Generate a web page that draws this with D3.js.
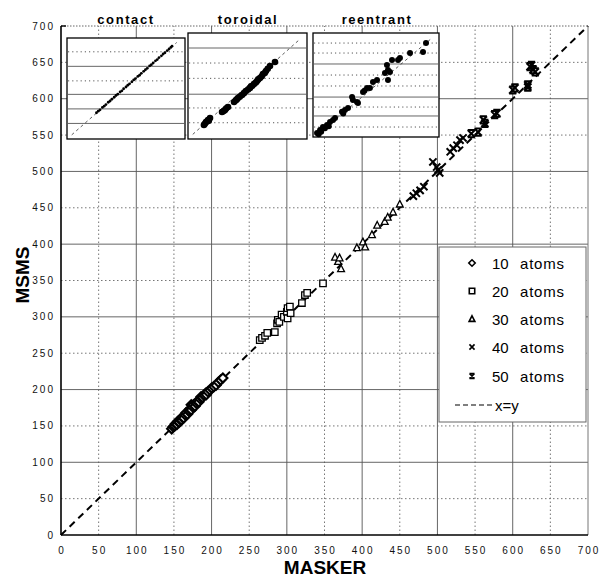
<!DOCTYPE html>
<html><head><meta charset="utf-8">
<script src="https://cdn.jsdelivr.net/npm/d3@7"></script>
<style>
html,body{margin:0;padding:0;background:#fff;}
svg{display:block;font-family:"Liberation Sans",Arial,sans-serif;}
</style></head>
<body>
<svg id="chart" width="600" height="578"></svg>
<script>
// ---------- DATA ----------
const xTicks = [0,50,100,150,200,250,300,350,400,450,500,550,600,650,700];
const yTicks = [0,50,100,150,200,250,300,350,400,450,500,550,600,650,700];
const seriesNames = ["10 atoms","20 atoms","30 atoms","40 atoms","50 atoms"];
const seriesShapes = ["diamond","square","triangle","x","star"];

const atoms10 = [[147,146],[149,149],[151,150],[152,153],[154,152],[155,156],[157,155],[158,159],[160,158],[161,162],[163,161],[165,165],[166,168],[168,166],[170,170],[171,173],[173,172],[173,179],[175,176],[176,179],[178,177],[180,181],[181,184],[183,183],[185,187],[186,190],[188,189],[190,192],[192,195],[193,193],[195,197],[198,199],[200,202],[203,204],[206,206],[209,210],[212,213],[215,216]];
const atoms20 = [[264,268],[267,271],[271,274],[274,278],[284,279],[287,291],[288,296],[290,293],[293,303],[296,300],[300,307],[301,312],[301,298],[304,314],[305,305],[320,319],[324,330],[327,333],[348,346]];
const atoms30 = [[364,382],[368,376],[370,381],[372,366],[393,395],[401,403],[404,396],[413,413],[420,426],[430,431],[434,437],[441,444],[450,455]];
const atoms40 = [[468,466],[472,470],[477,474],[482,479],[494,513],[499,506],[501,502],[503,498],[517,527],[521,532],[526,536],[530,543],[534,546]];
const atoms50 = [[545,552],[554,554],[561,571],[563,566],[576,578],[579,580],[600,612],[603,615],[620,616],[620,619],[623,644],[625,646],[627,640],[630,637]];
const allSeries = [atoms10, atoms20, atoms30, atoms40, atoms50];

const insetTitles = ["contact","toroidal","reentrant"];
const contactPts = [[25,25.3],[26.5,26.8],[28,28.1],[30,30.4],[31.5,31.6],[33,33.2],[35,35.4],[36.5,36.6],[38,38.3],[40,40.2],[41.5,41.9],[43,43.1],[45,45.3],[46.5,46.4],[48,48.4],[50,50.1],[51.5,51.8],[53,53.2],[55,55.1],[56.5,56.9],[58,58.2],[60,60.3],[61.5,61.4],[63,63.3],[65,65.2],[66.5,66.8],[68,68.1],[70,70.4],[71.5,71.6],[73,73.2],[75,75.3],[76.5,76.5],[78,78.4],[80,80.1],[81.5,81.9],[83,83.1],[85,85.2],[86.5,86.7],[88,88.2],[89,89.4]];
const toroidalPts = [[13.4,12.9],[14.2,14.1],[15.1,15.7],[16,16.2],[16.8,17.6],[17.5,17],[18.5,19.5],[28.6,25.2],[30,26],[31.1,27.1],[32,28.5],[33.6,29.9],[38.7,34.6],[40,36],[41,37],[42,38.4],[43.5,39.5],[45.4,41.2],[47,43],[48.7,45],[50.5,46.5],[52.1,47.9],[53,49.5],[54,50],[55.5,51.7],[57,53],[58,54.5],[59,56],[60.5,57.3],[62,59],[63,61.1],[64.5,62],[65.5,64],[67,66],[68.9,68.7],[73.1,72.5]];
const reentrantPts = [[3.2,5.1],[4.5,4],[5.6,7.9],[6.5,6.2],[7.9,10.7],[9.5,9.5],[11.1,12.6],[12.5,11.5],[13.5,15.4],[15.9,17.3],[17.5,19.2],[23,25],[24,23.5],[25.4,26.7],[27.8,28.6],[31,38.9],[31.7,36.1],[34.9,34.2],[35.7,33.3],[39.7,43.6],[41,45],[42.9,47.4],[45.2,47.4],[47.6,53.1],[50.8,54.9],[57.1,61.5],[59.5,64.4],[58.7,69.1],[61.1,62.5],[59.5,54.9],[62.7,73.8],[67.5,73.8],[69,75.7],[77,80.3],[87.3,81.3],[89.7,89.7]];
const contactGrid = [[15,"solid"],[29,"solid"],[43,"solid"],[56,"dot"],[70,"solid"],[84,"dot"]];
const toroidalGrid = [[15,"dot"],[29,"dot"],[42,"solid"],[57,"dot"],[71.5,"dot"],[85.7,"solid"]];
const reentrantGrid = [[10.7,"dot"],[21.1,"solid"],[29.5,"dot"],[38.9,"solid"],[49.3,"dot"],[59.6,"dot"],[70,"solid"],[80.3,"dot"],[89.7,"dot"]];

// ---------- DRAW ----------
const svg = d3.select("#chart");
const x = d3.scaleLinear().domain([0,700]).range([61,588]);
const y = d3.scaleLinear().domain([0,700]).range([535,26]);

function markerPath(shape, s){
  switch(shape){
    case "diamond": return `M0,${-s}L${s},0L0,${s}L${-s},0Z`;
    case "square": return `M${-s*0.85},${-s*0.85}H${s*0.85}V${s*0.85}H${-s*0.85}Z`;
    case "triangle": return `M0,${-s}L${s*0.9},${s*0.75}L${-s*0.9},${s*0.75}Z`;
    case "x": return `M${-s*0.8},${-s*0.8}L${s*0.8},${s*0.8}M${s*0.8},${-s*0.8}L${-s*0.8},${s*0.8}`;
    case "star": return `M${-s*0.8},${-s*0.8}L${s*0.8},${s*0.8}M${s*0.8},${-s*0.8}L${-s*0.8},${s*0.8}M${-s*0.8},${-s*0.8}H${s*0.8}M${-s*0.8},${s*0.8}H${s*0.8}`;
  }
}

// grid
const grid = svg.append("g");
xTicks.filter(v=>v>0 && v<700).forEach(v=>{
  const major = v%100===0;
  grid.append("line").attr("x1",x(v)).attr("x2",x(v)).attr("y1",y(0)).attr("y2",y(700))
    .attr("stroke", major?"#555":"#666").attr("stroke-width",0.9)
    .attr("stroke-dasharray", major?null:"1.5,2.5");
});
yTicks.filter(v=>v>0 && v<700).forEach(v=>{
  const major = v%100===0;
  grid.append("line").attr("x1",x(0)).attr("x2",x(700)).attr("y1",y(v)).attr("y2",y(v))
    .attr("stroke", major?"#555":"#666").attr("stroke-width",0.9)
    .attr("stroke-dasharray", major?null:"1.5,2.5");
});
grid.append("line").attr("x1",x(0)).attr("x2",x(700)).attr("y1",y(700)).attr("y2",y(700))
  .attr("stroke","#666").attr("stroke-dasharray","1.5,1.5");
grid.append("line").attr("x1",x(700)).attr("x2",x(700)).attr("y1",y(0)).attr("y2",y(700))
  .attr("stroke","#777");
// axes
svg.append("line").attr("x1",x(0)).attr("x2",x(0)).attr("y1",y(0)).attr("y2",y(700)).attr("stroke","#000").attr("stroke-width",1.6);
svg.append("line").attr("x1",x(0)).attr("x2",x(700)).attr("y1",y(0)).attr("y2",y(0)).attr("stroke","#000").attr("stroke-width",1.6);
svg.append("line").attr("x1",x(0)).attr("x2",x(0)+5).attr("y1",y(700)).attr("y2",y(700)).attr("stroke","#000").attr("stroke-width",1.4);

// tick labels
svg.append("g").selectAll("text").data(xTicks).join("text")
  .attr("x",d=>x(d)+1).attr("y",554).attr("text-anchor","middle")
  .attr("font-size",10).attr("letter-spacing",2).attr("fill","#111").text(d=>d);
svg.append("g").selectAll("text").data(yTicks).join("text")
  .attr("x",55).attr("y",d=>y(d)+3.5).attr("text-anchor","end")
  .attr("font-size",10).attr("letter-spacing",2).attr("fill","#111").text(d=>d);

// axis titles
svg.append("text").attr("x",325).attr("y",574).attr("text-anchor","middle")
  .attr("font-size",19).attr("font-weight","bold").text("MASKER");
svg.append("text").attr("transform","translate(29,275) rotate(-90)").attr("text-anchor","middle")
  .attr("font-size",19).attr("font-weight","bold").text("MSMS");

// diagonal
svg.append("line").attr("x1",x(0)).attr("y1",y(0)).attr("x2",x(700)).attr("y2",y(700))
  .attr("stroke","#000").attr("stroke-width",2).attr("stroke-dasharray","7,5");

// points
allSeries.forEach((pts,i)=>{
  const shape = seriesShapes[i];
  const open = !(shape==="x"||shape==="star");
  svg.append("g").selectAll("path").data(pts).join("path")
    .attr("transform",d=>`translate(${x(d[0])},${y(d[1])})`)
    .attr("d",markerPath(shape, shape==="diamond"?4.5:(shape==="star"||shape==="x")?4.5:3.8))
    .attr("fill", open?"#fff":"none")
    .attr("stroke","#000").attr("stroke-width", shape==="diamond"?2.2:(open?1.3:2));
});

// insets
const insets = [
  {title:insetTitles[0], pts:contactPts, grid:contactGrid, box:[67,38,185,139], xr:[67,185], yr:[139,35.2], tx:126, r:1.4},
  {title:insetTitles[1], pts:toroidalPts, grid:toroidalGrid, box:[188,33,307,139], xr:[188,307], yr:[138.6,32.9], tx:248, r:3.3},
  {title:insetTitles[2], pts:reentrantPts, grid:reentrantGrid, box:[313,33,439,137], xr:[313,439], yr:[138.4,32.1], tx:377, r:3}
];
insets.forEach(ins=>{
  const g = svg.append("g");
  const [x0,y0,x1,y1] = ins.box;
  g.append("rect").attr("x",x0).attr("y",y0).attr("width",x1-x0).attr("height",y1-y0).attr("fill","#fff");
  const ix = d3.scaleLinear().domain([0,100]).range(ins.xr);
  const iy = d3.scaleLinear().domain([0,100]).range(ins.yr);
  ins.grid.forEach(([v,st])=>{
    g.append("line").attr("x1",x0+1).attr("x2",x1-1).attr("y1",iy(v)).attr("y2",iy(v))
      .attr("stroke", st==="solid"?"#555":"#444").attr("stroke-width",0.9)
      .attr("stroke-dasharray", st==="solid"?null:"1.2,3");
  });
  g.append("line").attr("x1",ix(4)).attr("y1",iy(4)).attr("x2",ix(93)).attr("y2",iy(93))
    .attr("stroke","#333").attr("stroke-width",0.8).attr("stroke-dasharray","3,3");
  g.selectAll("circle").data(ins.pts).join("circle")
    .attr("cx",d=>ix(d[0])).attr("cy",d=>iy(d[1])).attr("r",ins.r).attr("fill","#000");
  g.append("rect").attr("x",x0).attr("y",y0).attr("width",x1-x0).attr("height",y1-y0)
    .attr("fill","none").attr("stroke","#000").attr("stroke-width",1.3);
  svg.append("text").attr("x",ins.tx).attr("y",24).attr("text-anchor","middle")
    .attr("font-size",13).attr("font-weight","bold").attr("letter-spacing",1.6).text(ins.title);
});

// legend
const lg = svg.append("g");
lg.append("rect").attr("x",439).attr("y",247).attr("width",147).attr("height",175)
  .attr("fill","#fff").attr("stroke","#666").attr("stroke-width",1);
const rowY = [263,291,319,347,376];
seriesNames.forEach((name,i)=>{
  const shape = seriesShapes[i];
  lg.append("path").attr("transform",`translate(472,${rowY[i]})`)
    .attr("d",markerPath(shape,3.2)).attr("fill",(shape==="x"||shape==="star")?"none":"#fff")
    .attr("stroke","#000").attr("stroke-width",1.6);
  const parts = name.split(" ");
  lg.append("text").attr("x",492).attr("y",rowY[i]+5.5).attr("font-size",15).text(parts[0]);
  lg.append("text").attr("x",520).attr("y",rowY[i]+5.5).attr("font-size",15).attr("letter-spacing",0.8).text(parts[1]);
});
lg.append("line").attr("x1",455).attr("x2",494).attr("y1",405).attr("y2",405)
  .attr("stroke","#000").attr("stroke-width",1.2).attr("stroke-dasharray","5,3");
lg.append("text").attr("x",495).attr("y",410.5).attr("font-size",15).text("x=y");
</script>
</body></html>
